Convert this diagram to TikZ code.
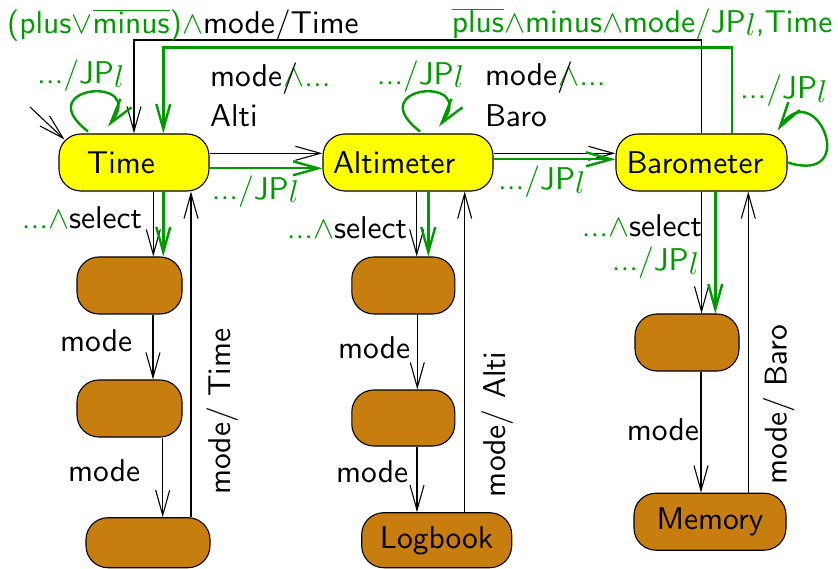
\RequirePackage{fix-cm}
\documentclass[tikz,border=0pt]{standalone}
\usetikzlibrary{arrows.meta}
\DeclareFontFamily{OT1}{cmssx}{}
\DeclareFontShape{OT1}{cmssx}{m}{n}{<-> cmss10}{}
\newcommand{\myfont}{\fontencoding{OT1}\fontfamily{cmssx}\fontseries{m}\fontshape{n}\fontsize{31.5}{36}\selectfont}
\newcommand{\jpl}{JP\raisebox{-3.5pt}{$l$}}
\definecolor{gr}{RGB}{0,153,0}
\definecolor{brn}{RGB}{200,125,15}
\definecolor{yel}{RGB}{255,255,0}
\tikzset{
  every node/.style={font=\myfont, inner sep=0pt},
  stbox/.style={draw=black, line width=1.1pt, fill=yel, rounded corners=22pt, minimum height=57pt},
  subbox/.style={draw=black, line width=1.1pt, fill=brn, rounded corners=22pt, minimum height=57pt},
  barr/.style={draw=black, line width=1.1pt, -{Straight Barb[length=25pt,width=14pt]}},
  garr/.style={draw=gr, line width=2.4pt, -{Straight Barb[length=25pt,width=14pt]}},
  lbl/.style={anchor=base west},
  glbl/.style={anchor=base west, text=gr},
}
\begin{document}
\begin{tikzpicture}[x=1pt,y=-1pt]
\useasboundingbox (0,0) rectangle (838,569);
% states
\node[stbox, minimum width=150pt] (time) at (134,162.5) {\makebox[150pt][l]{\hspace{28pt}Time}};
\node[stbox, minimum width=170pt] (alt) at (408,162.5) {\makebox[170pt][l]{\hspace{10pt}Altimeter}};
\node[stbox, minimum width=171pt] (baro) at (701.5,162.5) {\makebox[171pt][l]{\hspace{10.5pt}Barometer}};
\node[subbox, minimum width=105pt] (t1) at (129.5,285.5) {};
\node[subbox, minimum width=105pt] (t2) at (129.5,408.5) {};
\node[subbox, minimum width=124pt, minimum height=50pt] (t3) at (148,542.7) {};
\node[subbox, minimum width=103pt] (a1) at (403.3,285.5) {};
\node[subbox, minimum width=103pt, minimum height=56pt] (a2) at (403.3,418) {};
\node[subbox, minimum width=150pt, minimum height=55pt] (log) at (436.7,540.2) {Logbook};
\node[subbox, minimum width=104pt] (b1) at (687,342.5) {};
\node[subbox, minimum width=152pt] (mem) at (710,521.7) {Memory};
% initial
\coordinate (i0) at (30,107);
\draw[barr] (i0) -- ([xshift=6pt,yshift=-6pt]time.north west);
% horizontal
\draw[barr] ([yshift=9.2pt]time.east) -- ([yshift=9.2pt]alt.west);
\draw[garr] ([yshift=-5.8pt]time.east) -- ([yshift=-5.8pt]alt.west);
\draw[barr] ([yshift=9.2pt]alt.east) -- ([yshift=9.2pt]baro.west);
\draw[garr] ([yshift=3.2pt]alt.east) -- ([yshift=3.2pt]baro.west);
% down from states
\draw[barr] ([xshift=19.3pt]time.south) -- ([xshift=19.3pt]time.south |- t1.north);
\draw[garr] ([xshift=29.3pt]time.south) -- ([xshift=29.3pt]time.south |- t1.north);
\draw[barr] ([xshift=8.7pt]alt.south) -- ([xshift=8.7pt]alt.south |- a1.north);
\draw[garr] ([xshift=20.3pt]alt.south) -- ([xshift=20.3pt]alt.south |- a1.north);
\draw[barr] (baro.south) -- (baro.south |- b1.north);
\draw[garr] ([xshift=13.8pt]baro.south) -- ([xshift=13.8pt]baro.south |- b1.north);
% chains
\draw[barr] ([xshift=23.5pt]t1.south) -- ([xshift=23.5pt]t1.south |- t2.north);
\draw[barr] ([xshift=33.2pt]t2.south) -- ([xshift=33.2pt]t2.south |- t3.north);
\draw[barr] ([xshift=14pt]a1.south) -- ([xshift=14pt]a1.south |- a2.north);
\draw[barr] ([xshift=13.7pt]a2.south) -- ([xshift=13.7pt]a2.south |- log.north);
\draw[barr] ([xshift=14pt]b1.south) -- ([xshift=14pt]b1.south |- mem.north);
% up
\draw[barr] ([xshift=43pt]t3.north) -- ([xshift=43pt]t3.north |- time.south);
\draw[barr] ([xshift=28pt]log.north) -- ([xshift=28pt]log.north |- alt.south);
\draw[barr] ([xshift=38.3pt]mem.north) -- ([xshift=38.3pt]mem.north |- baro.south);
% top long
\coordinate (btop) at (0,40);
\coordinate (gtop) at (0,47.7);
\draw[barr] ([xshift=0.2pt]baro.north) -- ([xshift=0.2pt]baro.north |- btop) -| (time.north);
\draw[garr] ([xshift=30.2pt]baro.north) -- ([xshift=30.2pt]baro.north |- gtop) -| ([xshift=29.3pt]time.north);
% loops
\draw[garr] ([xshift=-46pt,yshift=2pt]time.north) .. controls +(-60,-46) and +(40,-52) .. ([xshift=-26pt,yshift=7pt]time.north);
\draw[garr] ([xshift=12pt,yshift=2pt]alt.north) .. controls +(-60,-46) and +(40,-52) .. ([xshift=31pt,yshift=7pt]alt.north);
\draw[garr] (baro.east) .. controls +(74,23) and +(38,-56) .. ([xshift=-10pt,yshift=3pt]baro.north east);
% labels
\node[glbl] (llt) at (37,84) {.../\jpl};
\node[glbl] (lla) at (376.7,84.5) {.../\jpl};
\node[glbl] (llb) at (740,99) {.../\jpl};
\node[glbl] (lta) at (211.7,199.5) {.../\jpl};
\node[glbl] (lab) at (498,190) {.../\jpl};
\node[glbl] (lbs) at (611.7,271) {.../\jpl};
\node[lbl] (sst) at (21.7,228.3) {\textcolor{gr}{...$\wedge$}select};
\node[lbl] (ssa) at (286.7,238.8) {\textcolor{gr}{...$\wedge$}select};
\node[lbl] (ssb) at (581.7,236.5) {\textcolor{gr}{...$\wedge$}select};
\node[lbl] (m1) at (60,351.7) {mode};
\node[lbl] (m2) at (68,481.7) {mode};
\node[lbl] (m3) at (338,358.3) {mode};
\node[lbl] (m4) at (336,482.7) {mode};
\node[lbl] (m5) at (626.7,440) {mode};
\node[rotate=90, anchor=base] (rt) at (230,411.7) {mode/ Time};
\node[rotate=90, anchor=base] (ra) at (505,424.2) {mode/ Alti};
\node[rotate=90, anchor=base] (rb) at (786.7,404.5) {mode/ Baro};
\node[lbl] (ma1) at (210,86.7) {mode\rlap{\textcolor{gr}{\hspace{1.3pt}$\wedge$...}}/};
\node[lbl] (ma3) at (210,127) {Alti};
\node[lbl] (mb1) at (485,86) {mode\rlap{\textcolor{gr}{\hspace{1.3pt}$\wedge$...}}/};
\node[lbl] (mb3) at (485,127) {Baro};
\node[lbl] (tl) at (7,33.3) {\textcolor{gr}{(plus$\vee\overline{\mbox{minus}}$)$\wedge$}mode/Time};
\node[glbl] (tr) at (451.7,32.5) {$\overline{\mbox{plus}}\wedge$minus$\wedge$mode/\jpl,Time};
\end{tikzpicture}
\end{document}
